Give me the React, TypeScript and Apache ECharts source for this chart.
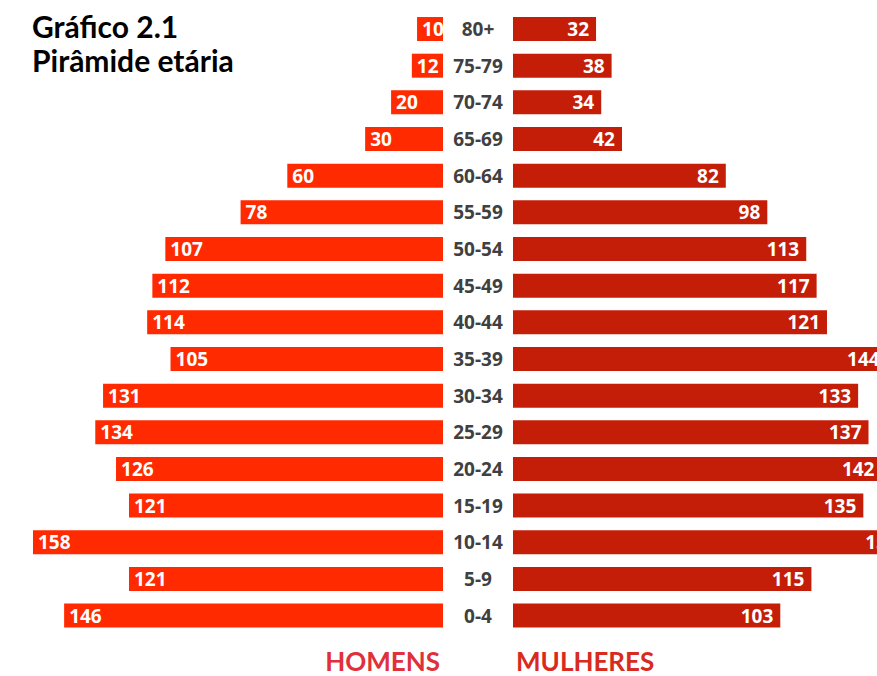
import React, { useEffect, useRef } from "react";
import * as echarts from "echarts";

// Age groups, bottom (0-4) to top (80+)
const ageGroups = ["0-4", "5-9", "10-14", "15-19", "20-24", "25-29", "30-34", "35-39", "40-44", "45-49", "50-54", "55-59", "60-64", "65-69", "70-74", "75-79", "80+"];
const men = [146, 121, 158, 121, 126, 134, 131, 105, 114, 112, 107, 78, 60, 30, 20, 12, 10];
const women = [103, 115, 151, 135, 142, 137, 133, 144, 121, 117, 113, 98, 82, 42, 34, 38, 32];

const titleLines = ["Gráfico 2.1", "Pirâmide etária"];
const menLabel = "HOMENS";
const womenLabel = "MULHERES";

const PX_PER_UNIT = 2.595;
const LEFT_WIDTH = 443;
const RIGHT_LEFT = 513;
const RIGHT_WIDTH = 877 - RIGHT_LEFT;
const LEFT_MAX = LEFT_WIDTH / PX_PER_UNIT;
const RIGHT_MAX = RIGHT_WIDTH / PX_PER_UNIT;

const valueFont = "'Open Sans', sans-serif";
const titleFont = "Lato, 'Open Sans', sans-serif";

export default function App() {
  const ref = useRef<HTMLDivElement>(null);
  useEffect(() => {
    if (!ref.current) return;
    const chart = echarts.init(ref.current, null, { renderer: "svg" });
    const gridTop = 10.7;
    const gridHeight = 36.66 * ageGroups.length;
    chart.setOption({
      animation: false,
      backgroundColor: "#ffffff",
      title: {
        text: titleLines.join("\n"),
        left: 27,
        top: 4,
        textStyle: {
          fontFamily: titleFont,
          fontSize: 30,
          fontWeight: "bold",
          color: "#000000",
          lineHeight: 34,
        },
      },
      graphic: [
        {
          type: "text",
          x: 440,
          y: 661,
          style: {
            text: menLabel,
            fontFamily: titleFont,
            fontSize: 26,
            fontWeight: "bold",
            fill: "#E0303C",
            align: "right",
            verticalAlign: "middle",
          },
        },
        {
          type: "text",
          x: 516,
          y: 661,
          style: {
            text: womenLabel,
            fontFamily: titleFont,
            fontSize: 26,
            fontWeight: "bold",
            fill: "#D82A1E",
            align: "left",
            verticalAlign: "middle",
          },
        },
      ],
      grid: [
        { left: 0, width: LEFT_WIDTH, top: gridTop, height: gridHeight },
        { left: RIGHT_LEFT, width: RIGHT_WIDTH, top: gridTop, height: gridHeight },
      ],
      xAxis: [
        { type: "value", gridIndex: 0, inverse: true, min: 0, max: LEFT_MAX, show: false },
        { type: "value", gridIndex: 1, min: 0, max: RIGHT_MAX, show: false },
      ],
      yAxis: [
        { type: "category", gridIndex: 0, data: ageGroups, show: false },
        {
          type: "category",
          gridIndex: 1,
          data: ageGroups,
          axisLine: { show: false },
          axisTick: { show: false },
          splitLine: { show: false },
          axisLabel: {
            align: "center",
            margin: 35,
            fontFamily: valueFont,
            fontSize: 19,
            fontWeight: "bold",
            color: "#404040",
          },
        },
      ],
      series: [
        {
          name: menLabel,
          type: "bar",
          xAxisIndex: 0,
          yAxisIndex: 0,
          data: men,
          barWidth: 24,
          clip: false,
          itemStyle: { color: "#FF2A00" },
          label: {
            show: true,
            position: "insideLeft",
            distance: 5,
            color: "#ffffff",
            fontFamily: valueFont,
            fontSize: 19,
            fontWeight: "bold",
          },
        },
        {
          name: womenLabel,
          type: "bar",
          xAxisIndex: 1,
          yAxisIndex: 1,
          data: women,
          barWidth: 24,
          clip: false,
          itemStyle: { color: "#C41E08" },
          label: {
            show: true,
            position: "insideRight",
            distance: 7,
            color: "#ffffff",
            fontFamily: valueFont,
            fontSize: 19,
            fontWeight: "bold",
          },
        },
      ],
    });
    return () => chart.dispose();
  }, []);
  return (
    <div
      ref={ref}
      style={{ position: "fixed", left: 0, top: 0, width: 877, height: 676, overflow: "hidden" }}
    />
  );
}
